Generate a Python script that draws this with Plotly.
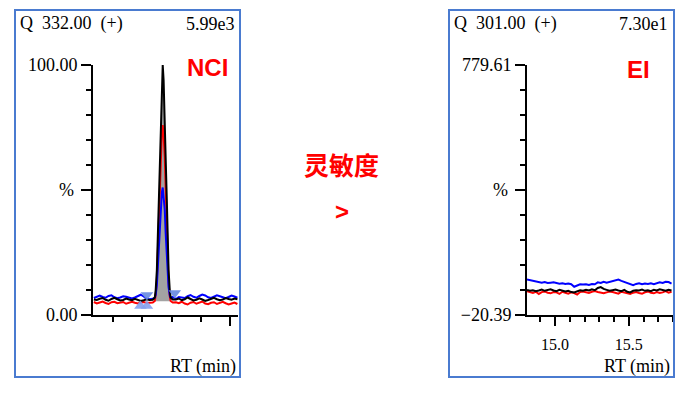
import plotly.graph_objects as go

# ---------------- NCI panel data (RT in min, intensity in %) ----------------
rt_left_base = [9.035, 9.045, 9.055, 9.065, 9.075, 9.085, 9.095, 9.105, 9.115, 9.125,
                9.135, 9.145, 9.155, 9.165, 9.175, 9.185, 9.195, 9.205, 9.215, 9.225]
rt_peak = [9.236, 9.243, 9.246, 9.250, 9.253, 9.256, 9.260, 9.263, 9.267, 9.270,
           9.273, 9.277, 9.280, 9.284, 9.287, 9.290, 9.294, 9.297, 9.304]
rt_right_base = [9.315, 9.325, 9.335, 9.345, 9.355, 9.365, 9.375, 9.385, 9.395, 9.405, 9.415,
                 9.425, 9.435, 9.445, 9.455, 9.465, 9.475, 9.485, 9.495, 9.505, 9.515, 9.525]

nci_black_left = [6.2, 6.0, 6.5, 6.8, 6.1, 5.7, 6.4, 6.9, 6.3, 5.8, 6.0, 6.6, 6.2, 5.9, 6.5, 6.1, 5.6, 5.9, 6.3, 6.0]
nci_black_peak = [6.1, 7, 10, 18, 30, 46, 63, 80, 94, 100, 94, 80, 63, 46, 30, 18, 10, 7, 6.2]
nci_black_right = [6.2, 6.6, 5.9, 6.3, 7.0, 6.4, 5.8, 6.1, 6.7, 6.2, 5.6, 6.0, 6.5, 6.9, 6.3, 5.9, 6.2, 6.8, 6.4, 6.1, 6.6, 6.3]

nci_blue_left = [6.8, 7.4, 7.8, 7.2, 6.9, 7.6, 7.9, 7.1, 6.7, 7.0, 7.5, 7.3, 6.8, 6.6, 7.0, 7.6, 8.1, 7.4, 6.5, 6.3]
nci_blue_peak = [6.5, 7.0, 8, 12, 18, 26, 34, 43, 49, 51, 48, 42, 33, 24, 17, 11, 8, 7, 7.2]
nci_blue_right = [6.4, 7.2, 7.0, 6.8, 7.5, 8.0, 7.3, 6.9, 7.6, 8.2, 7.8, 7.1, 6.8, 7.3, 7.9, 7.5, 7.0, 6.7, 7.2, 7.8, 7.4, 6.9]

nci_red_left = [5.2, 4.6, 5.0, 5.4, 4.8, 4.4, 5.1, 5.3, 4.7, 4.9, 5.2, 4.5, 4.8, 5.3, 4.9, 4.6, 5.0, 5.2, 4.8, 5.0]
nci_red_peak = [5.0, 5.6, 8, 14, 24, 37, 51, 64, 73, 76, 72, 63, 50, 36, 23, 13, 7.5, 5.6, 5.0]
nci_red_right = [5.1, 4.7, 5.3, 4.6, 4.2, 4.9, 5.2, 4.5, 4.8, 5.4, 4.6, 4.3, 4.9, 5.1, 4.4, 4.8, 5.3, 4.7, 4.2, 4.6, 5.0, 4.4]

peak_fill_base = 5.5
apex_marker = {"rt": [9.270], "y": [101.6]}
limit_down = {"rt": [9.216, 9.311], "y": [8.0, 8.8]}
limit_up = {"rt": [9.194, 9.216], "y": [3.6, 3.6]}

# ---------------- EI panel data ----------------
rt_ei = [14.81, 14.83, 14.85, 14.87, 14.89, 14.91, 14.93, 14.95, 14.97, 14.99,
         15.01, 15.03, 15.05, 15.07, 15.09, 15.11, 15.13, 15.15, 15.17, 15.19,
         15.21, 15.23, 15.25, 15.27, 15.29, 15.31, 15.33, 15.35, 15.37, 15.39,
         15.41, 15.43, 15.45, 15.47, 15.49, 15.51, 15.53, 15.55, 15.57, 15.59,
         15.61, 15.63, 15.65, 15.67, 15.69, 15.71, 15.73, 15.75, 15.77, 15.79]
ei_blue = [93, 91, 88, 85, 84, 83, 85, 82, 83, 84, 82, 80, 81, 79, 80, 78, 70, 75, 78, 77,
           78, 76, 79, 78, 84, 82, 86, 83, 85, 88, 90, 93, 89, 86, 82, 78, 75, 79, 81, 78,
           80, 79, 81, 78, 80, 84, 82, 86, 85, 80]
ei_black = [60, 57, 59, 56, 58, 61, 57, 59, 62, 58, 56, 60, 58, 55, 57, 53, 52, 56, 59, 57,
            60, 58, 62, 59, 66, 69, 63, 60, 57, 59, 61, 58, 56, 60, 54, 52, 57, 59, 58, 61,
            57, 59, 56, 60, 58, 62, 59, 57, 60, 58]
ei_red = [56, 52, 50, 54, 47, 53, 55, 51, 49, 53, 52, 47, 54, 51, 48, 52, 50, 45, 53, 55,
          52, 50, 54, 56, 53, 51, 49, 52, 55, 53, 50, 48, 54, 52, 49, 47, 51, 53, 50, 48,
          52, 55, 51, 49, 53, 50, 52, 56, 51, 54]

left_y_ticks = [0, 50, 100]
left_y_text = ["0.00", "", "100.00"]
right_y_ticks = [-20.39, 379.61, 779.61]
right_y_text = ["\u221220.39", "", "779.61"]
right_x_ticks = [15.0, 15.5]
right_x_text = ["15.0", "15.5"]

W, H = 690, 394
def px(x):
    return x / W
def py(y):
    return (H - y) / H

BLUE_FRAME = "#4a7bd0"
SERIF = "Liberation Serif"

fig = go.Figure()

# gray fill under NCI peak
fx = rt_peak[1:18]
fy = nci_black_peak[1:18]
fig.add_trace(go.Scatter(x=fx + [fx[-1], fx[0]], y=fy + [peak_fill_base, peak_fill_base],
                         fill="toself", fillcolor="#a3a3a3", line=dict(width=0),
                         mode="lines", xaxis="x", yaxis="y", hoverinfo="skip"))

rt_nci = rt_left_base + rt_peak + rt_right_base
for ys, col in [(nci_red_left + nci_red_peak + nci_red_right, "#ff0000"),
                (nci_blue_left + nci_blue_peak + nci_blue_right, "#0000ff"),
                (nci_black_left + nci_black_peak + nci_black_right, "#000000")]:
    fig.add_trace(go.Scatter(x=rt_nci, y=ys, mode="lines", line=dict(color=col, width=2),
                             xaxis="x", yaxis="y"))

fig.add_trace(go.Scatter(x=limit_up["rt"], y=limit_up["y"], mode="markers",
                         marker=dict(symbol="triangle-up", size=11, color="#86a0ee", opacity=0.9),
                         xaxis="x", yaxis="y", cliponaxis=False))
fig.add_trace(go.Scatter(x=limit_down["rt"], y=limit_down["y"], mode="markers",
                         marker=dict(symbol="triangle-down", size=11, color="#6688e0", opacity=0.9),
                         xaxis="x", yaxis="y", cliponaxis=False))
fig.add_trace(go.Scatter(x=apex_marker["rt"], y=apex_marker["y"], mode="markers",
                         marker=dict(symbol="triangle-down", size=11, color="#1c2a5e"),
                         xaxis="x", yaxis="y", cliponaxis=False))

for ys, col in [(ei_red, "#ff0000"), (ei_blue, "#0000ff"), (ei_black, "#000000")]:
    fig.add_trace(go.Scatter(x=rt_ei, y=ys, mode="lines", line=dict(color=col, width=2),
                             xaxis="x2", yaxis="y2"))

axis_common = dict(showline=True, linecolor="black", linewidth=2, ticks="outside",
                   tickcolor="black", tickwidth=1.5, showgrid=False, zeroline=False,
                   fixedrange=True, automargin=False)

fig.update_layout(
    template="none",
    width=W, height=H, margin=dict(l=0, r=0, t=0, b=0, pad=0), autosize=False,
    paper_bgcolor="white", plot_bgcolor="white", showlegend=False,
    font=dict(family=SERIF, color="black"),
    xaxis=dict(domain=[px(93), px(238)], range=[9.032, 9.527], anchor="y",
               tickvals=[9.5], ticklen=9, showticklabels=False,
               minor=dict(ticks="outside", dtick=0.1, tick0=9.1, ticklen=5,
                          tickcolor="black", tickwidth=1.5),
               **axis_common),
    yaxis=dict(domain=[py(315), py(65)], range=[0, 100], anchor="x",
               tickvals=left_y_ticks, ticktext=left_y_text, ticklen=10,
               tickfont=dict(family=SERIF, size=18),
               minor=dict(ticks="outside", dtick=10, tick0=0, ticklen=5,
                          tickcolor="black", tickwidth=1.5),
               **axis_common),
    xaxis2=dict(domain=[px(527), px(673)], range=[14.81, 15.80], anchor="y2",
                tickvals=right_x_ticks, ticktext=right_x_text, ticklen=9,
                ticklabelstandoff=5, tickfont=dict(family=SERIF, size=16),
                minor=dict(ticks="outside", dtick=0.1, tick0=15.0, ticklen=5,
                           tickcolor="black", tickwidth=1.5),
                **axis_common),
    yaxis2=dict(domain=[py(315), py(65)], range=[-20.39, 779.61], anchor="x2",
                tickvals=right_y_ticks, ticktext=right_y_text, ticklen=10,
                tickfont=dict(family=SERIF, size=18),
                minor=dict(ticks="outside", dtick=80, tick0=-20.39, ticklen=5,
                           tickcolor="black", tickwidth=1.5),
                **axis_common),
)

# panel frames
for x0, x1 in [(15, 240), (449, 674)]:
    fig.add_shape(type="rect", xref="paper", yref="paper",
                  x0=px(x0), x1=px(x1), y0=py(377), y1=py(10),
                  line=dict(color=BLUE_FRAME, width=2), fillcolor="rgba(0,0,0,0)")

def txt(x, y, s, xa="center", size=18, family=SERIF, color="black", bold=False):
    fig.add_annotation(x=px(x), y=py(y), xref="paper", yref="paper", text=("<b>%s</b>" % s) if bold else s,
                       showarrow=False, xanchor=xa, yanchor="middle",
                       font=dict(family=family, size=size, color=color))

txt(18, 24, "Q  332.00  (+)", xa="left")
txt(237, 24, "5.99e3", xa="right")
txt(452, 24, "Q  301.00  (+)", xa="left")
txt(670, 24, "7.30e1", xa="right")
txt(66, 190, "%")
txt(500, 190, "%")
txt(238, 366, "RT (min)", xa="right")
txt(672, 366, "RT (min)", xa="right")
txt(207, 68, "NCI", size=24, family="Liberation Sans", color="#ff0000", bold=True)
txt(638, 70, "EI", size=24, family="Liberation Sans", color="#ff0000", bold=True)
txt(341, 164, "灵敏度", size=25, family="Noto Sans CJK SC", color="#ff0000", bold=True)
txt(342, 211, "&gt;", size=24, family="Liberation Sans", color="#ff0000", bold=True)

fig.write_html("out.html")
